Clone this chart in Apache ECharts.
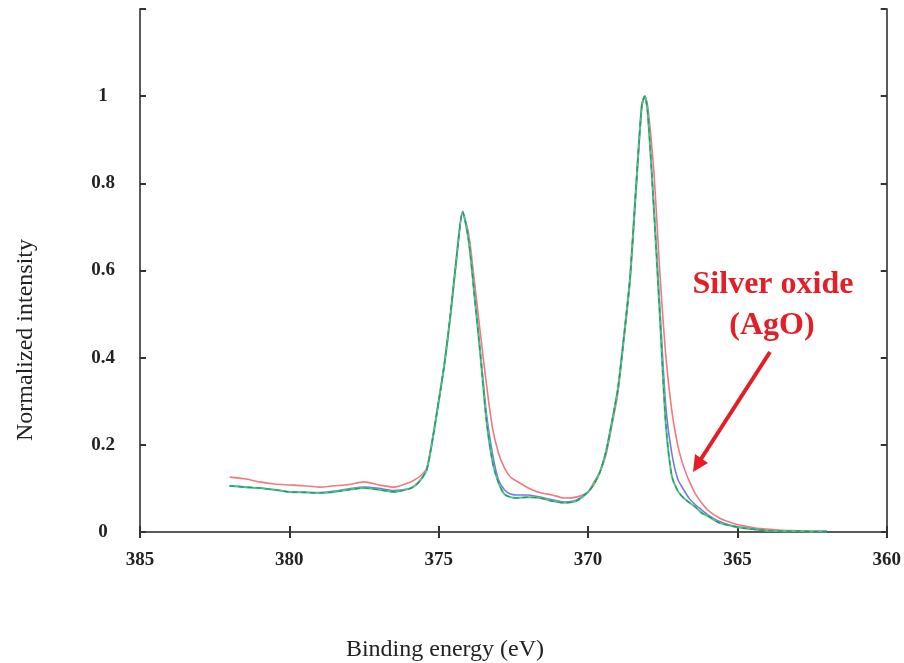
<!DOCTYPE html>
<html>
<head>
<meta charset="utf-8">
<script src="https://cdn.jsdelivr.net/npm/echarts@6/dist/echarts.min.js"></script>
<style>html,body{margin:0;padding:0;background:#fff;}#chart{width:904px;height:663px;}</style>
</head>
<body>
<div id="chart"></div>
<script>
const energies = [382,381.5,381,380.5,380,379.5,379,378.5,378,377.5,377,376.5,376,375.8,375.6,375.4,375.2,375.0,374.8,374.6,374.4,374.2,374.0,373.8,373.6,373.4,373.2,373.0,372.8,372.6,372.4,372.0,371.6,371.2,370.8,370.4,370.0,369.8,369.6,369.4,369.2,369.0,368.8,368.6,368.4,368.2,368.1,368.0,367.8,367.6,367.4,367.2,367.0,366.8,366.6,366.4,366.2,366.0,365.6,365.2,364.8,364.4,364.0,363.5,363.0,362.5,362.0];

const redVals = [0.126,0.122,0.115,0.110,0.108,0.106,0.103,0.106,0.109,0.115,0.108,0.103,0.113,0.120,0.129,0.147,0.215,0.300,0.390,0.500,0.628,0.730,0.685,0.572,0.453,0.338,0.239,0.182,0.147,0.126,0.117,0.101,0.090,0.085,0.078,0.080,0.092,0.115,0.138,0.177,0.245,0.320,0.440,0.570,0.775,0.975,0.998,0.975,0.830,0.600,0.407,0.280,0.200,0.150,0.115,0.087,0.067,0.051,0.032,0.021,0.014,0.009,0.007,0.004,0.003,0.002,0.002];

const blueVals = [0.106,0.103,0.101,0.097,0.092,0.091,0.090,0.094,0.099,0.103,0.100,0.095,0.099,0.106,0.120,0.143,0.215,0.300,0.390,0.503,0.632,0.735,0.671,0.545,0.410,0.270,0.180,0.120,0.097,0.087,0.085,0.085,0.080,0.074,0.069,0.073,0.092,0.110,0.138,0.184,0.253,0.329,0.448,0.579,0.784,0.980,1.000,0.963,0.750,0.520,0.290,0.182,0.122,0.097,0.076,0.062,0.051,0.040,0.024,0.015,0.010,0.006,0.003,0.002,0.002,0.001,0.001];

const greenVals = [0.106,0.103,0.101,0.097,0.092,0.091,0.090,0.092,0.097,0.101,0.097,0.092,0.099,0.106,0.120,0.143,0.215,0.300,0.390,0.503,0.632,0.735,0.671,0.540,0.402,0.255,0.161,0.113,0.087,0.080,0.078,0.080,0.078,0.071,0.067,0.071,0.092,0.110,0.138,0.184,0.253,0.329,0.448,0.579,0.784,0.980,1.000,0.960,0.745,0.500,0.250,0.130,0.095,0.078,0.067,0.057,0.044,0.037,0.021,0.014,0.009,0.006,0.003,0.002,0.002,0.001,0.001];

const tealVals = greenVals;

const xTicks = [385,380,375,370,365,360];
const yTicks = [0,0.2,0.4,0.6,0.8,1];

function pairs(vals){ return energies.map((e,i)=>[e, vals[i]]); }

const chart = echarts.init(document.getElementById('chart'), null, {renderer:'canvas'});
const axisLine = {show:true, lineStyle:{color:'#5a5a5a', width:2}};
const tick = {show:true, inside:true, length:6, lineStyle:{color:'#333', width:2}};
const serifBold = {fontFamily:'Liberation Serif', fontWeight:'bold', fontSize:19, color:'#222'};

chart.setOption({
  animation:false,
  backgroundColor:'#fff',
  grid:{left:140, right:17, top:9, bottom:131, containLabel:false},
  xAxis:[{
    type:'value', min:360, max:385, interval:5, inverse:true, position:'bottom',
    axisLine:axisLine, axisTick:tick, splitLine:{show:false},
    axisLabel:Object.assign({margin:19, formatter:v=> xTicks.includes(v)? String(v):''}, serifBold)
  },{
    type:'value', min:360, max:385, interval:5, inverse:true, position:'top',
    axisLine:axisLine, axisTick:tick, splitLine:{show:false}, axisLabel:{show:false}
  }],
  yAxis:[{
    type:'value', min:0, max:1.2, interval:0.2, position:'left',
    axisLine:axisLine, axisTick:tick, splitLine:{show:false},
    axisLabel:Object.assign({margin:37, align:'center', formatter:v=>{
      const r = Math.round(v*10)/10;
      return yTicks.some(t=>Math.abs(t-r)<1e-6) ? String(r) : '';
    }}, serifBold)
  },{
    type:'value', min:0, max:1.2, interval:0.2, position:'right',
    axisLine:axisLine, axisTick:tick, splitLine:{show:false}, axisLabel:{show:false}
  }],
  series:[
    {name:'red', type:'line', data:pairs(redVals), showSymbol:false, smooth:0.25, lineStyle:{color:'#f07a80', width:1.6}},
    {name:'blue', type:'line', data:pairs(blueVals), showSymbol:false, smooth:0.25, lineStyle:{color:'#7a78e0', width:1.6}},
    {name:'green', type:'line', data:pairs(greenVals), showSymbol:false, smooth:0.25, lineStyle:{color:'#4cc878', width:2}},
    {name:'teal', type:'line', data:pairs(tealVals), showSymbol:false, smooth:0.25, lineStyle:{color:'#2a8c86', width:1.2, type:[5,4]}}
  ],
  graphic:[
    {type:'text', x:445, y:650, style:{text:'Binding energy (eV)', font:'24px "Liberation Serif"', fill:'#222', align:'center', verticalAlign:'middle'}},
    {type:'text', x:26, y:340, rotation:Math.PI/2, style:{text:'Normalized intensity', font:'24px "Liberation Serif"', fill:'#222', align:'center', verticalAlign:'middle'}},
    {type:'text', x:773, y:285, style:{text:'Silver oxide', font:'bold 32px "Liberation Serif"', fill:'#e41e26', align:'center', verticalAlign:'middle'}},
    {type:'text', x:772, y:326, style:{text:'(AgO)', font:'bold 32px "Liberation Serif"', fill:'#e41e26', align:'center', verticalAlign:'middle'}},
    {type:'line', shape:{x1:770, y1:352, x2:701, y2:459}, style:{stroke:'#e41e26', lineWidth:4}},
    {type:'polygon', shape:{points:[[693,472],[708,463],[695,454]]}, style:{fill:'#e41e26'}}
  ]
});
</script>
</body>
</html>
